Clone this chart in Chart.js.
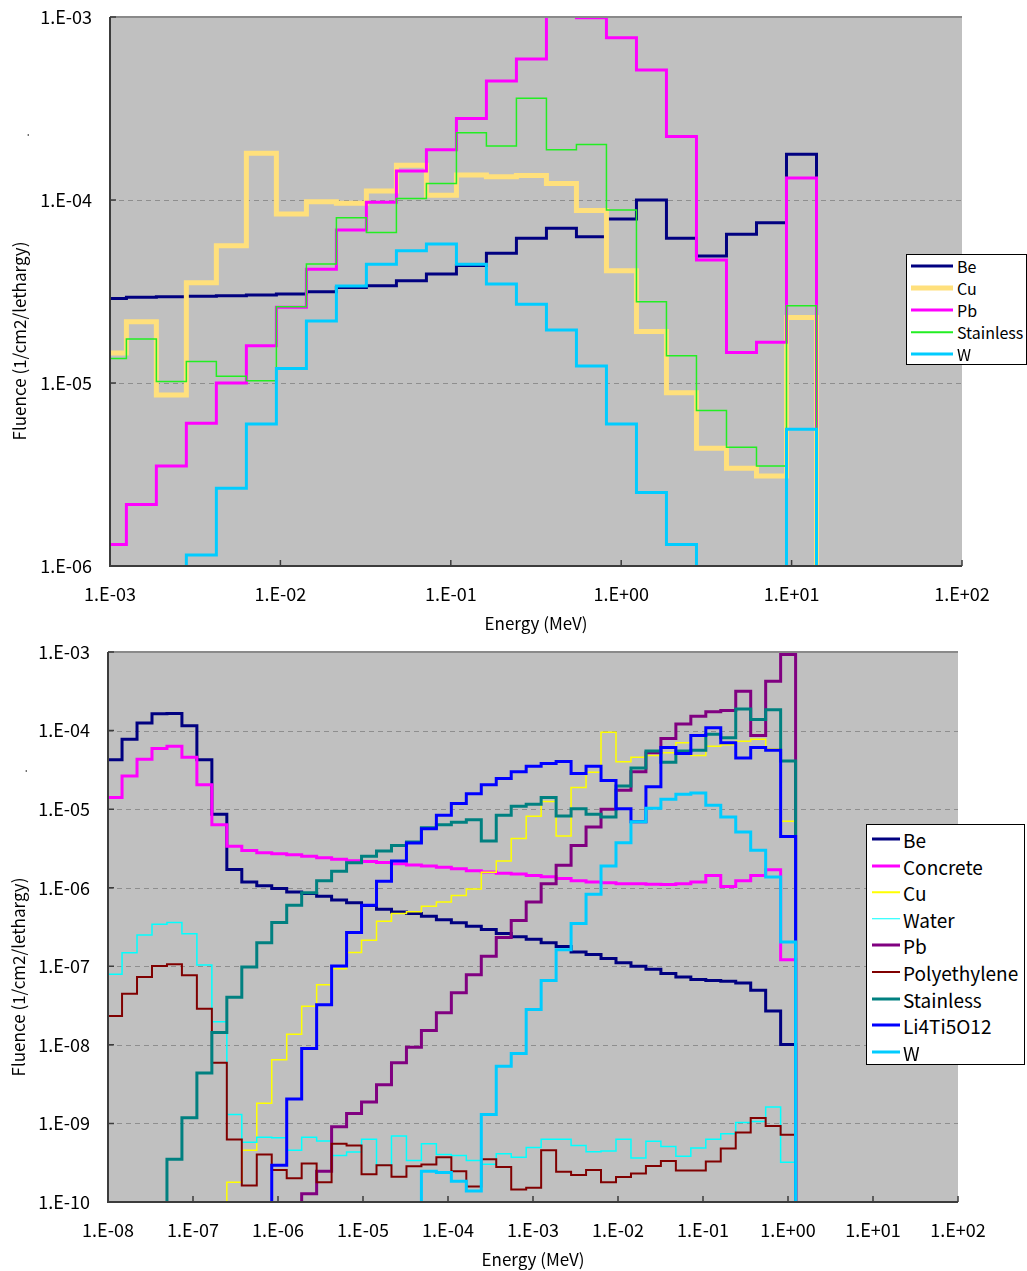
<!DOCTYPE html>
<html lang="en">
<head>
  <meta charset="UTF-8" />
  <title>Fluence spectra</title>
  <script src="https://cdn.jsdelivr.net/npm/chart.js"></script>
  <style>
    body { margin: 0; background: #fff; font-family: "Noto Sans CJK JP", "Noto Sans", sans-serif; }
    #page { position: relative; width: 1027px; height: 1271px; overflow: hidden; }
    canvas { position: absolute; left: 0; }
    .axis-title { position: absolute; white-space: nowrap; font-size: 17px; line-height: 1; color: #000; transform: translate(-50%, -50%); }
    .axis-title.vertical { transform: translate(-50%, -50%) rotate(-90deg); }
    .legend { position: absolute; background: #fff; border: 1px solid #000; box-sizing: border-box; }
    .legend .swatch { position: absolute; transform: translateY(-50%); }
    .legend .name { position: absolute; transform: translateY(-50%); white-space: nowrap; line-height: 1; color: #000; }
  </style>
</head>
<body>
<div id="page">
  <canvas id="topChart" width="1027" height="636" style="top:0"></canvas>
  <canvas id="bottomChart" width="1027" height="635" style="top:636px"></canvas>

  <!-- axis titles -->
  <div class="axis-title vertical" style="left:24px; top:135px; font-size:11px">.</div>
  <div class="axis-title vertical" style="left:18px; top:341px">Fluence (1/cm2/lethargy)</div>
  <div class="axis-title" style="left:536px; top:622px">Energy (MeV)</div>
  <div class="axis-title vertical" style="left:22px; top:771px; font-size:11px">.</div>
  <div class="axis-title vertical" style="left:17px; top:977px">Fluence (1/cm2/lethargy)</div>
  <div class="axis-title" style="left:533px; top:1258px">Energy (MeV)</div>

  <div class="legend" id="topLegend"></div>
  <div class="legend" id="bottomLegend"></div>
</div>

<script>
  // ---- top chart: energy bin edges (MeV), ratio 1.5 groups up to 14 MeV ----
  const topEdges = [8.32e-4, 1.248e-3, 1.871e-3, 2.806e-3, 4.209e-3, 6.314e-3, 9.471e-3, 1.421e-2,
    2.131e-2, 3.196e-2, 4.795e-2, 7.192e-2, 0.1079, 0.1618, 0.2427, 0.3641, 0.5461, 0.8192,
    1.229, 1.843, 2.765, 4.148, 6.222, 9.333, 14];

  // fluence per bin; null = below the axis minimum
  const topBe = [2.90e-5, 2.94e-5, 2.96e-5, 2.98e-5, 3.00e-5, 3.03e-5, 3.06e-5, 3.15e-5, 3.33e-5, 3.40e-5,
    3.62e-5, 3.94e-5, 4.38e-5, 5.12e-5, 6.18e-5, 7.00e-5, 6.30e-5, 7.87e-5, 1.00e-4, 6.18e-5,
    4.94e-5, 6.50e-5, 7.52e-5, 1.78e-4];
  const topCu = [1.46e-5, 2.16e-5, 8.6e-6, 3.53e-5, 5.62e-5, 1.80e-4, 8.38e-5, 9.79e-5, 9.59e-5, 1.12e-4,
    1.55e-4, 1.06e-4, 1.37e-4, 1.34e-4, 1.36e-4, 1.23e-4, 8.75e-5, 4.11e-5, 1.91e-5, 8.85e-6,
    4.40e-6, 3.42e-6, 3.10e-6, 2.28e-5];
  const topPb = [1.31e-6, 2.17e-6, 3.52e-6, 6.02e-6, 1.00e-5, 1.60e-5, 2.59e-5, 4.18e-5, 6.85e-5, 9.71e-5,
    1.44e-4, 1.88e-4, 2.79e-4, 4.47e-4, 5.89e-4, 1.25e-3, 9.9e-4, 7.7e-4, 5.13e-4, 2.22e-4,
    4.70e-5, 1.47e-5, 1.67e-5, 1.32e-4];
  const topStainless = [1.36e-5, 1.74e-5, 1.02e-5, 1.31e-5, 1.09e-5, 1.03e-5, 2.61e-5, 4.47e-5, 8.0e-5, 6.65e-5,
    1.02e-4, 1.23e-4, 2.33e-4, 1.97e-4, 3.60e-4, 1.88e-4, 2.01e-4, 8.81e-5, 2.78e-5, 1.41e-5,
    7.07e-6, 4.46e-6, 3.52e-6, 2.64e-5];
  const topW = [null, null, null, 1.15e-6, 2.66e-6, 5.97e-6, 1.20e-5, 2.18e-5, 3.39e-5, 4.46e-5,
    5.28e-5, 5.75e-5, 4.46e-5, 3.48e-5, 2.69e-5, 1.95e-5, 1.24e-5, 5.97e-6, 2.52e-6, 1.31e-6,
    null, null, null, 5.58e-6];

  const topXTicks = [1e-3, 1e-2, 1e-1, 1, 10, 100];
  const topXLabels = ['1.E-03', '1.E-02', '1.E-01', '1.E+00', '1.E+01', '1.E+02'];
  const topYTicks = [1e-6, 1e-5, 1e-4, 1e-3];
  const topYLabels = ['1.E-06', '1.E-05', '1.E-04', '1.E-03'];

  // ---- bottom chart: same 1.5 ratio groups, 1e-8 .. 1.23 MeV ----
  const bottomEdges = [9.756e-9, 1.463e-8, 2.195e-8, 3.293e-8, 4.939e-8, 7.408e-8, 1.111e-7, 1.667e-7,
    2.500e-7, 3.751e-7, 5.626e-7, 8.439e-7, 1.266e-6, 1.899e-6, 2.848e-6, 4.272e-6, 6.408e-6,
    9.612e-6, 1.442e-5, 2.163e-5, 3.244e-5, 4.866e-5, 7.299e-5, 1.095e-4, 1.642e-4, 2.464e-4,
    3.695e-4, 5.543e-4, 8.314e-4, 1.247e-3, 1.871e-3, 2.806e-3, 4.209e-3, 6.314e-3, 9.471e-3,
    1.421e-2, 2.131e-2, 3.196e-2, 4.795e-2, 7.192e-2, 0.1079, 0.1618, 0.2427, 0.3641, 0.5461,
    0.8192, 1.229];

  const botBe = [4.24e-5, 7.78e-5, 1.25e-4, 1.64e-4, 1.65e-4, 1.15e-4, 4.24e-5, 8.63e-6, 1.71e-6, 1.18e-6,
    1.06e-6, 9.8e-7, 8.8e-7, 8.45e-7, 7.78e-7, 7.0e-7, 6.44e-7, 5.93e-7, 5.33e-7, 4.91e-7,
    4.71e-7, 4.33e-7, 3.90e-7, 3.59e-7, 3.23e-7, 2.94e-7, 2.62e-7, 2.38e-7, 2.21e-7, 2.0e-7,
    1.78e-7, 1.52e-7, 1.41e-7, 1.26e-7, 1.11e-7, 1.0e-7, 9.2e-8, 8.11e-8, 7.31e-8, 6.8e-8,
    6.58e-8, 6.44e-8, 6.11e-8, 4.96e-8, 2.70e-8, 1.01e-8];
  const botConcrete = [1.41e-5, 2.65e-5, 4.33e-5, 5.93e-5, 6.31e-5, 4.56e-5, 2.04e-5, 6.31e-6, 3.37e-6, 2.97e-6,
    2.79e-6, 2.70e-6, 2.62e-6, 2.51e-6, 2.41e-6, 2.31e-6, 2.21e-6, 2.15e-6, 2.10e-6, 2.02e-6,
    1.95e-6, 1.89e-6, 1.82e-6, 1.74e-6, 1.65e-6, 1.58e-6, 1.53e-6, 1.49e-6, 1.43e-6, 1.38e-6,
    1.31e-6, 1.23e-6, 1.18e-6, 1.16e-6, 1.12e-6, 1.12e-6, 1.11e-6, 1.10e-6, 1.12e-6, 1.18e-6,
    1.43e-6, 1.04e-6, 1.23e-6, 1.43e-6, 1.69e-6, 1.21e-7];
  const botCu = [null, null, null, null, null, null, null, null, 1.78e-10, 4.56e-10,
    1.80e-9, 6.44e-9, 1.36e-8, 3.10e-8, 5.81e-8, 9.3e-8, 1.50e-7, 2.15e-7, 3.74e-7, 4.71e-7,
    4.96e-7, 5.81e-7, 6.58e-7, 7.94e-7, 9.6e-7, 1.57e-6, 2.19e-6, 4.24e-6, 8.11e-6, 1.25e-5,
    4.56e-6, 1.89e-5, 2.94e-5, 9.49e-5, 4.02e-5, 4.56e-5, 4.81e-5, 5.23e-5, 7.0e-5, 4.81e-5,
    6.31e-5, 6.58e-5, 7.31e-5, 7.78e-5, 5.81e-5, 7.0e-6];
  const botWater = [7.94e-8, 1.49e-7, 2.51e-7, 3.44e-7, 3.62e-7, 2.59e-7, 1.04e-7, 1.97e-8, 1.30e-9, 5.74e-10,
    6.65e-10, 6.58e-10, 4.56e-10, 6.65e-10, 5.98e-10, 3.90e-10, 4.33e-10, 6.31e-10, 2.94e-10, 6.93e-10,
    3.37e-10, 5.5e-10, 4.03e-10, 3.90e-10, 3.37e-10, 3.03e-10, 4.11e-10, 3.70e-10, 4.95e-10, 6.31e-10,
    6.31e-10, 5.22e-10, 4.37e-10, 4.47e-10, 6.31e-10, 3.62e-10, 5.93e-10, 5.07e-10, 3.82e-10, 4.86e-10,
    6.31e-10, 7.38e-10, 1.03e-9, 1.06e-9, 1.62e-9, 3.20e-10];
  const botPb = [null, null, null, null, null, null, null, null, null, null,
    null, null, null, 1.27e-10, 2.46e-10, 9.1e-10, 1.34e-9, 1.87e-9, 3.10e-9, 5.93e-9,
    9.3e-9, 1.52e-8, 2.56e-8, 4.61e-8, 7.78e-8, 1.34e-7, 2.33e-7, 3.82e-7, 6.58e-7, 1.12e-6,
    1.93e-6, 3.44e-6, 5.93e-6, 1.0e-5, 1.74e-5, 3.0e-5, 5.23e-5, 7.94e-5, 1.21e-4, 1.52e-4,
    1.74e-4, 1.80e-4, 3.16e-4, 8.63e-5, 4.24e-4, 9.3e-4];
  const botPolyethylene = [2.33e-8, 4.47e-8, 7.31e-8, 1.01e-7, 1.06e-7, 7.69e-8, 2.88e-8, 5.93e-9, 6.24e-10, 1.62e-10,
    4.03e-10, 2.56e-10, 2.0e-10, 3.10e-10, 1.78e-10, 5.5e-10, 5.22e-10, 2.26e-10, 2.94e-10, 2.10e-10,
    2.85e-10, 3.0e-10, 3.70e-10, 2.46e-10, 1.57e-10, 3.51e-10, 2.79e-10, 1.44e-10, 1.52e-10, 4.56e-10,
    2.43e-10, 2.21e-10, 2.56e-10, 1.78e-10, 2.08e-10, 2.31e-10, 2.88e-10, 3.33e-10, 2.51e-10, 2.51e-10,
    3.27e-10, 4.81e-10, 7.69e-10, 1.17e-9, 9.3e-10, 7.16e-10];
  const botStainless = [null, null, null, null, 3.51e-10, 1.18e-9, 4.38e-9, 1.44e-8, 4.03e-8, 9.8e-8,
    2.0e-7, 3.62e-7, 5.98e-7, 8.63e-7, 1.23e-6, 1.62e-6, 2.08e-6, 2.51e-6, 2.94e-6, 3.44e-6,
    3.82e-6, 5.81e-6, 6.31e-6, 6.79e-6, 7.31e-6, 3.94e-6, 8.38e-6, 1.09e-5, 1.15e-5, 1.41e-5,
    8.2e-6, 1.01e-5, 8.63e-6, 7.94e-6, 1.97e-5, 3.33e-5, 5.5e-5, 3.94e-5, 5.5e-5, 5.62e-5,
    9.0e-5, 8.11e-5, 1.88e-4, 1.38e-4, 1.84e-4, 4.11e-5];
  const botLi4Ti5O12 = [null, null, null, null, null, null, null, null, null, null,
    null, 2.94e-10, 2.04e-9, 9.0e-9, 3.23e-8, 1.01e-7, 2.70e-7, 5.98e-7, 1.21e-6, 2.19e-6,
    3.70e-6, 5.62e-6, 8.38e-6, 1.18e-5, 1.57e-5, 2.04e-5, 2.46e-5, 3.0e-5, 3.51e-5, 3.82e-5,
    4.03e-5, 2.85e-5, 3.51e-5, 2.31e-5, 1.01e-5, 6.93e-6, 1.93e-5, 6.11e-5, 5.12e-5, 8.63e-5,
    1.09e-4, 7.0e-5, 4.47e-5, 6.11e-5, 5.62e-5, 4.47e-6];
  const botW = [null, null, null, null, null, null, null, null, null, null,
    null, null, null, null, null, null, null, null, null, null,
    null, 2.46e-10, 2.38e-10, 1.84e-10, 1.38e-10, 1.30e-9, 5.33e-9, 7.78e-9, 2.82e-8, 6.58e-8,
    1.62e-7, 3.51e-7, 8.28e-7, 1.89e-6, 3.74e-6, 6.93e-6, 1.03e-5, 1.34e-5, 1.55e-5, 1.60e-5,
    1.12e-5, 7.94e-6, 5.12e-6, 3.0e-6, 1.37e-6, 2.04e-7];

  const bottomXTicks = [1e-8, 1e-7, 1e-6, 1e-5, 1e-4, 1e-3, 1e-2, 1e-1, 1, 10, 100];
  const bottomXLabels = ['1.E-08', '1.E-07', '1.E-06', '1.E-05', '1.E-04', '1.E-03', '1.E-02',
    '1.E-01', '1.E+00', '1.E+01', '1.E+02'];
  const bottomYTicks = [1e-10, 1e-9, 1e-8, 1e-7, 1e-6, 1e-5, 1e-4, 1e-3];
  const bottomYLabels = ['1.E-10', '1.E-09', '1.E-08', '1.E-07', '1.E-06', '1.E-05', '1.E-04', '1.E-03'];

  // series look
  const topSeries = [
    { label: 'Be', data: topBe, color: '#000080', width: 3 },
    { label: 'Cu', data: topCu, color: '#FFE07C', width: 5 },
    { label: 'Pb', data: topPb, color: '#FF00FF', width: 3 },
    { label: 'Stainless', data: topStainless, color: '#22EE22', width: 1.5 },
    { label: 'W', data: topW, color: '#00CCFF', width: 3 }
  ];
  const bottomSeries = [
    { label: 'Be', data: botBe, color: '#000080', width: 3 },
    { label: 'Concrete', data: botConcrete, color: '#FF00FF', width: 3 },
    { label: 'Cu', data: botCu, color: '#FFFF00', width: 1.5 },
    { label: 'Water', data: botWater, color: '#00FFFF', width: 1.5 },
    { label: 'Pb', data: botPb, color: '#800080', width: 3 },
    { label: 'Polyethylene', data: botPolyethylene, color: '#800000', width: 2 },
    { label: 'Stainless', data: botStainless, color: '#008080', width: 3 },
    { label: 'Li4Ti5O12', data: botLi4Ti5O12, color: '#0000FF', width: 3 },
    { label: 'W', data: botW, color: '#00CCFF', width: 3 }
  ];

  // value used for bins below the visible range, so the step runs off the bottom of the plot
  const OFF_SCALE = 1e-14;

  function stepPoints(edges, values) {
    const pts = [];
    values.forEach((v, i) => {
      const y = v === null ? OFF_SCALE : v;
      pts.push({ x: edges[i], y: y }, { x: edges[i + 1], y: y });
    });
    pts.push({ x: edges[edges.length - 1], y: OFF_SCALE });
    return pts;
  }

  // grey plot area, dashed decade lines, axes and inside tick marks (Excel look)
  const plotFrame = {
    id: 'plotFrame',
    beforeDatasetsDraw(chart) {
      const { ctx, chartArea: a, scales: { y } } = chart;
      ctx.save();
      ctx.fillStyle = '#C0C0C0';
      ctx.fillRect(a.left, a.top, a.right - a.left, a.bottom - a.top);
      ctx.strokeStyle = '#8E8E8E';
      ctx.lineWidth = 1;
      ctx.setLineDash([5, 4]);
      ctx.beginPath();
      y.ticks.forEach(t => {
        const py = Math.round(y.getPixelForValue(t.value)) + 0.5;
        if (py > a.top + 3 && py < a.bottom - 3) {
          ctx.moveTo(a.left, py);
          ctx.lineTo(a.right, py);
        }
      });
      ctx.stroke();
      ctx.restore();
    },
    afterDatasetsDraw(chart) {
      const { ctx, chartArea: a, scales: { x, y } } = chart;
      ctx.save();
      ctx.lineWidth = 2;
      ctx.strokeStyle = '#8A8A8A';
      ctx.beginPath();
      ctx.moveTo(a.left, a.top);
      ctx.lineTo(a.right, a.top);
      ctx.stroke();
      ctx.strokeStyle = '#3C3C3C';
      ctx.beginPath();
      ctx.moveTo(a.left, a.top);
      ctx.lineTo(a.left, a.bottom);
      ctx.lineTo(a.right, a.bottom);
      ctx.stroke();
      ctx.lineWidth = 1.5;
      ctx.beginPath();
      x.ticks.forEach(t => {
        const px = x.getPixelForValue(t.value);
        ctx.moveTo(px, a.bottom);
        ctx.lineTo(px, a.bottom - 6);
      });
      y.ticks.forEach(t => {
        const py = y.getPixelForValue(t.value);
        ctx.moveTo(a.left, py);
        ctx.lineTo(a.left + 6, py);
      });
      ctx.stroke();
      ctx.restore();
    }
  };

  function logAxis(values, labels, fitSize, pad) {
    return {
      type: 'logarithmic',
      min: values[0],
      max: values[values.length - 1],
      afterBuildTicks: s => { s.ticks = values.map(v => ({ value: v })); },
      afterFit: s => {
        fitSize(s);
        // labels hang over the plot edges; keep the plot box where the layout padding puts it
        s.paddingTop = 0; s.paddingBottom = 0; s.paddingLeft = 0; s.paddingRight = 0;
      },
      ticks: {
        callback: (v, i) => labels[i],
        padding: pad,
        color: '#000',
        font: { size: 18 },
        autoSkip: false,
        maxRotation: 0,
        minRotation: 0
      },
      grid: { display: false, drawTicks: false },
      border: { display: false }
    };
  }

  function makeChart(canvasId, o) {
    return new Chart(document.getElementById(canvasId), {
      type: 'line',
      data: {
        datasets: o.series.map((s, i) => ({
          label: s.label,
          data: stepPoints(o.edges, s.data),
          borderColor: s.color,
          borderWidth: s.width,
          order: o.series.length - i, // first series underneath, like Excel
          pointRadius: 0,
          fill: false,
          tension: 0,
          borderJoinStyle: 'miter',
          borderCapStyle: 'butt'
        }))
      },
      options: {
        responsive: false,
        animation: false,
        devicePixelRatio: 1,
        events: [],
        layout: { padding: { left: 0, top: o.top, right: o.right, bottom: 0 } },
        plugins: { legend: { display: false }, tooltip: { enabled: false } },
        scales: {
          x: logAxis(o.xTicks, o.xLabels, s => { s.height = o.xAxisHeight; }, 17),
          y: logAxis(o.yTicks, o.yLabels, s => { s.width = o.yAxisWidth; }, 18)
        }
      },
      plugins: [plotFrame]
    });
  }

  function buildLegend(id, series, box) {
    const el = document.getElementById(id);
    Object.assign(el.style, {
      left: box.left + 'px', top: box.top + 'px',
      width: box.width + 'px', height: box.height + 'px'
    });
    series.forEach((s, i) => {
      const y = box.firstRow + i * box.rowStep;
      const sw = document.createElement('div');
      sw.className = 'swatch';
      Object.assign(sw.style, {
        left: box.swatchX + 'px', top: y + 'px', width: box.swatchW + 'px',
        height: Math.max(s.width, 1.5) + 'px', background: s.color
      });
      const nm = document.createElement('div');
      nm.className = 'name';
      nm.textContent = s.label;
      Object.assign(nm.style, { left: box.textX + 'px', top: y + 'px', fontSize: box.fontSize + 'px' });
      el.append(sw, nm);
    });
  }

  Chart.defaults.font.family = '"Noto Sans CJK JP", "Noto Sans", sans-serif';

  makeChart('topChart', {
    series: topSeries, edges: topEdges,
    xTicks: topXTicks, xLabels: topXLabels, yTicks: topYTicks, yLabels: topYLabels,
    top: 17, right: 65, yAxisWidth: 110, xAxisHeight: 70
  });

  makeChart('bottomChart', {
    series: bottomSeries, edges: bottomEdges,
    xTicks: bottomXTicks, xLabels: bottomXLabels, yTicks: bottomYTicks, yLabels: bottomYLabels,
    top: 16, right: 69, yAxisWidth: 108, xAxisHeight: 69
  });

  buildLegend('topLegend', topSeries, {
    left: 906, top: 254, width: 121, height: 111,
    firstRow: 11, rowStep: 22, swatchX: 4, swatchW: 42, textX: 50, fontSize: 16
  });
  buildLegend('bottomLegend', bottomSeries, {
    left: 866, top: 824, width: 159, height: 241,
    firstRow: 14, rowStep: 26.6, swatchX: 5, swatchW: 28, textX: 36, fontSize: 19
  });
</script>
</body>
</html>
